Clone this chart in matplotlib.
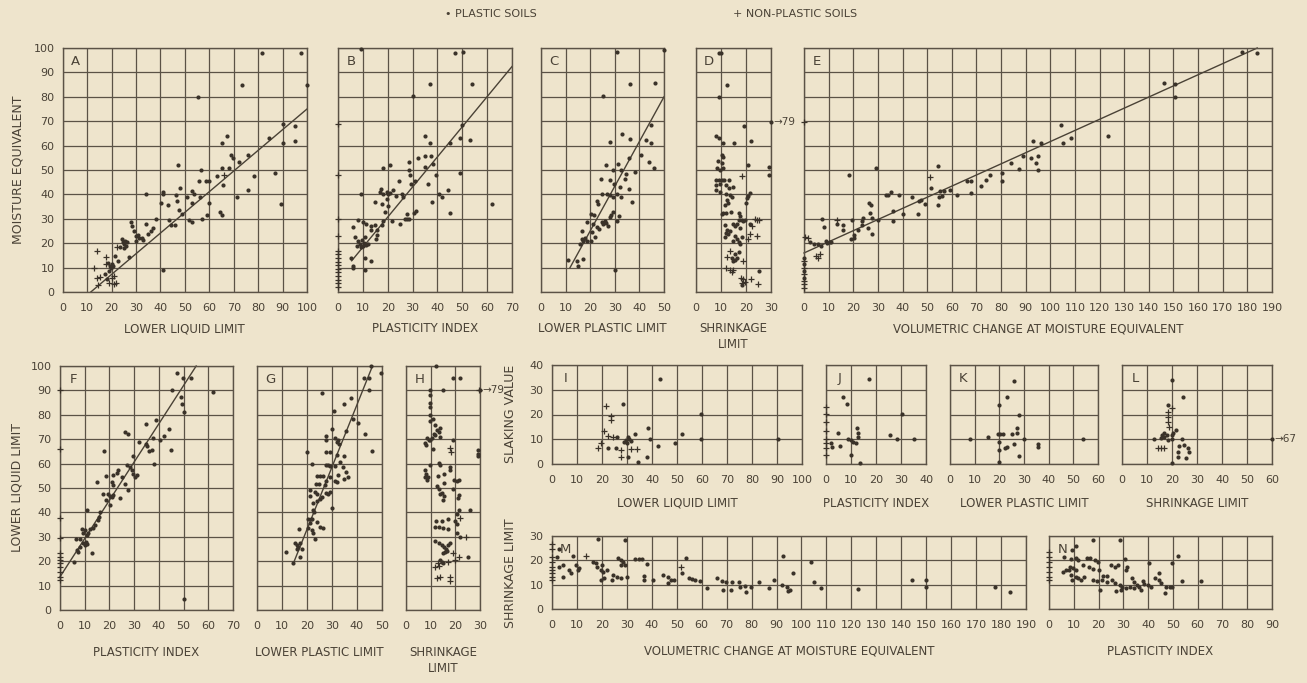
import matplotlib
matplotlib.use("Agg")
import matplotlib.pyplot as plt
from matplotlib import font_manager as fm

# ---------------- DATA ----------------
A_plastic = [(81.6,98),(97.4,98),(100,85),(73.2,85),(55.5,80),(90.3,69),(95,68),(95,62),(90.3,61),(84.5,63),
             (67.2,64),(65.2,61),(78.4,47.7),(87,48.8),(89.3,36),(75.9,42),(71.2,38.8),(75.9,56),(72,53.3),(69.8,55),
             (69,56.2),(68,50.7),(65.3,51),(65.6,44),(63,47.4),(64.5,32.6),(65.3,31.6),(59.9,45.6),(58.6,45.6),(56.8,50),
             (55.8,45.6),(52.8,41.2),(53.8,40.1),(50.7,38.8),(53,36.6),(56.4,38.8),(59.9,36.6),(58.9,31.5),(57,29.9),(53,28.5),
             (51.7,29.6),(47,52),(48,42.6),(46.4,39.7),(46.7,37.4),(47.6,33.6),(48.7,31.9),(44.4,27.5),(46,27.5),(43.7,29.6),
             (43,35.8),(41,40.1),(41,40.8),(40.3,36.3),(41,8.9),(34,40.1),(38.1,29.9),(37.1,26.2),(36.2,25.1),(34,27.8),
             (34.8,23.7),(32.4,22),(29.9,23),(31.4,22.3),(29.9,21),(28.4,27),(27.8,28.6),(29,25),(27,14.4),(26.3,20.3),
             (25,19.6),(24.1,21.6),(23.5,18.5),(25.2,18.2),(25.6,21),(21.5,14.8),(22.6,12.7),(20,11.4),(20.5,10.7),(19.7,10),
             (18.8,8.6),(18.4,12),(19.2,10.7),(17.4,7.3),(18.1,5.2),(26,19),(24.5,20.5),(31,23.5),(33,21.5)]
A_nonplastic = [(14,16.8),(12.9,10),(14,5.9),(15.2,6.3),(17.6,11.4),(17.8,14.4),(20.3,5.9),(20.8,3.2),(21.9,3.8),
                (18.8,3.7),(22.4,18.5),(14.6,2.7),(66,48),(21,6.5)]
A_fit = [(11.5,0),(100,75)]

B_plastic = [(9.2,99.7),(47,98),(50.3,98.2),(30.1,80.4),(36.9,85.2),(54,85.2),(9.2,40),(50,68.4),(49,63.3),(53,62.2),
             (45.2,60.9),(35,64.1),(36.9,61.1),(32.2,55.1),(34.9,55.6),(37.6,55.6),(38.2,52.6),(35.1,51.2),(39.3,48.1),
             (28.4,53.3),(28.4,50.1),(28.8,48.1),(29.5,44.1),(31.1,45.5),(24.4,45.5),(36.1,44.1),(48.9,48.8),(44.1,42),
             (40.8,40),(41.9,38.9),(37.8,36.7),(45.2,32.3),(61.8,35.9),(18.3,50.8),(21,52.2),(17,40.9),(17.2,42.3),(18,40),
             (19.7,40.9),(20.3,40),(21,40.5),(22.1,41.9),(19.7,38.2),(15,36.7),(17.9,35.9),(20.3,35.2),(23.4,39.3),(25.7,40),
             (26.1,38.9),(19,32.7),(21.9,29),(18.3,29.3),(17.9,27.6),(15,27.5),(15.6,25.5),(13.2,26.9),(13.2,25.5),(11.2,27.9),
             (8.2,29.7),(9.9,28.6),(6.2,26.5),(15.6,23.5),(15.2,21.7),(12,19.6),(10.9,22.4),(8.2,21),(8.9,19.6),(9.6,21.3),
             (9.9,19),(10.5,19.9),(9.2,18.3),(11.2,19.4),(6.9,22.4),(7.5,19),(25,27.9),(27,29.9),(27.7,29.9),(28.4,29.9),
             (27.7,32),(30.7,32.3),(31.5,33.1),(13.3,12.8),(10.9,14.1),(10.9,8.9),(5.3,13.9),(6.2,10.7),(6,10)]
B_nonplastic = [(0,69),(0,48),(0,30),(0,23),(0,17),(0,15.5),(0,14),(0,12.5),(0,11),(0,9.5),(0,8),(0,6.5),(0,5),
                (0,3.5),(0,2)]
B_fit = [(5.5,12.8),(70,92.4)]

C_plastic = [(31,98.2),(50,99),(25.3,80.4),(36.1,85.3),(46.2,85.6),(28,61.4),(33.1,64.7),(36.1,62.9),(42.8,62.2),
             (44.9,61.1),(44.9,68.4),(40.8,56.3),(43.9,53.3),(45.8,51),(35.8,55.1),(34.5,48.2),(38.2,49.2),(26.6,51.9),
             (29.3,50.1),(32.6,49.9),(31.4,52.6),(24.2,46.2),(28,45.7),(29.6,44.4),(32,43),(34.1,46.4),(35.8,42.3),
             (36.9,36.8),(24.6,40.2),(27,40),(28,39.6),(29.3,38.9),(30.7,40.2),(32.7,39.1),(22.6,37.2),(23.2,36.1),
             (29.3,32.7),(28.6,31.6),(31.8,31.3),(31,29),(28,30.6),(20.5,32),(21.5,31.7),(18.5,28.6),(21.2,27.9),
             (22.6,26.5),(23.6,25.8),(24.6,28.6),(25.3,27.9),(26,29),(26.6,28.2),(27.3,27.2),(16.5,24.9),(20.8,24.5),
             (21.9,22.7),(20.5,20.7),(16.5,21.7),(16.9,21),(17.8,22.1),(15.8,19.6),(18.5,20.7),(14.7,12.8),(11.1,13),
             (17.2,13.5),(15.1,10.7),(30,8.9)]
C_fit = [(11.8,10),(50,80)]

D_plastic = [(9,98),(9.9,98),(12.3,85),(9.2,80),(19.2,68),(30,69.7),(7.9,64),(9.3,63),(10.9,61),(15.2,61),(22,62),
             (10.3,56.3),(10.9,55.3),(8.9,53.6),(10.3,52.9),(8.3,50.9),(9.6,50.2),(10.9,50.9),(20.7,52),(29.2,51.2),
             (29.2,47.9),(8,46),(9.3,46),(10.3,46),(11.2,46),(13,45.8),(8,44),(9.6,44.3),(12,43.8),(13.3,42.7),(14.7,43),
             (8,41.6),(9.6,41),(12,40.2),(13.6,39.7),(14.3,38.9),(12.3,37.9),(12.7,36.6),(11.6,35.6),(21.6,40.7),
             (20.9,39.3),(20.3,38.6),(20,36.6),(10.3,32.1),(10.9,32.5),(12,32.2),(13.9,32.7),(17.3,32.5),(17.6,31.1),
             (18.3,29.7),(18.9,29.1),(19.6,29.7),(17,29.7),(16.3,28),(15.6,27),(14.7,27.7),(11.6,27.4),(12.3,25.6),
             (12,24.3),(11.6,22.5),(12.9,23.6),(13.6,25.2),(17.6,26.3),(21.6,27.7),(15.6,22.9),(16.3,21.6),(17,20.6),
             (17.6,19.5),(18.3,22.5),(14.9,20.9),(14.3,14),(14.9,12.7),(15.6,13),(16.3,14),(15.6,15.4),(17,16.5),
             (25.3,8.6),(18.3,2.9)]
D_nonplastic = [(18.3,47.5),(23.6,30),(24.3,29.7),(25,29.7),(22.3,27),(21.6,23.6),(20.9,21.6),(24.3,22.9),(12.3,14.3),
                (13.6,16.8),(18.9,12.7),(12,9.7),(13.6,8.9),(14.9,8.9),(14.3,8.3),(17.9,5.9),(18.9,5.2),(18.3,3.8),
                (19.6,4.2),(21.9,5.2),(24.9,3.1)]

E_plastic = [(177.8,98.4),(184,98.1),(146,85.7),(150.6,85.4),(150.6,80),(104.2,68.4),(105.2,61.2),(108.2,63),
             (123.4,64),(93,61.9),(96.3,61),(95.2,55.9),(92.3,54.8),(94,52.8),(95.2,49.9),(89.1,55.8),(87.1,50.5),
             (84.1,52.8),(80.2,48.7),(80.2,45.6),(75.4,48),(73.9,45.7),(71.7,43.3),(68,45.6),(66.2,45.6),(68,40.5),
             (62,39.9),(59.1,41.9),(56.8,41.5),(55.4,41.2),(54.3,51.7),(51.6,42.6),(56.1,39.2),(55,38.9),(54.3,35.8),
             (49.1,36.1),(47.6,37.8),(46.7,37.1),(43.9,38.9),(46.4,32),(40.2,32),(36,33.1),(36,29),(38.5,39.9),(35.3,40.8),
             (33.3,39.9),(34.2,39.9),(29.3,50.7),(18.2,48),(30,29.7),(27.1,35.8),(26.3,36.5),(26.8,32.4),(27.8,30.3),
             (24.1,30.3),(23.4,29),(21.9,25.6),(20.4,23.5),(18.9,21.9),(20.4,22.2),(23.4,27.6),(15.9,25.6),(15.9,27.6),
             (13.2,27.9),(19.6,29.7),(25.9,26.3),(27.8,23.8),(7.3,30),(8,26.7),(2.5,20.5),(4,19.5),(5.5,19.5),(7,18.8),
             (8.9,20.8),(9.5,20.1),(10.4,20.5),(11,20.5),(0,14),(0,11.3),(0,8.6),(0,5.9)]
E_nonplastic = [(0,69.5),(51.3,47.3),(13.4,29.7),(1.8,22.2),(0.3,22.4),(6.3,15.4),(4.8,14.7),(5.5,14),(0,12.7),(0,9.9),
                (0,7.2),(0,4.5),(0,3.1),(0,1.8)]
E_fit = [(0,16),(184,100)]

F_plastic = [(47.3,97.1),(49.7,95.1),(53.1,95.1),(45.3,90),(61.9,89.4),(48.9,87.3),(49.3,84.3),(50,81.2),(50,4.6),
             (38.8,78),(34.7,76.4),(44.2,74.2),(42.2,71.2),(37.8,70.3),(40.5,69.6),(26.4,73),(27.7,72.3),(31.8,68.9),
             (34.7,68.2),(35.1,67.1),(37.2,65.5),(36.2,65.2),(45,65.5),(38.1,60),(18,65.2),(29.7,63),(27,59.3),(28.4,58.7),
             (29.7,55.9),(31.1,55.3),(30.4,54.6),(29,57.3),(23.6,57.3),(23,56.2),(21.6,55.3),(25,54.6),(26.4,51.8),
             (27.7,49.1),(20.9,52.5),(21.4,51.2),(18.6,54.8),(14.9,52.5),(17.6,47.7),(18.6,45),(19.6,47.7),(20.3,46.7),
             (20.9,46.4),(21.6,47.1),(20.3,43),(24.3,45.7),(16.2,40.2),(15.9,38.2),(15.5,36.8),(14.2,34.8),(13.5,33.8),
             (12.2,33.4),(10.8,40.9),(10.1,32.7),(11.5,31.7),(8.8,33.4),(9.2,31.4),(9.5,27.3),(10.1,26.6),(8.1,25.9),
             (6.8,24.6),(7.4,23.9),(6.5,28.9),(5.7,19.8),(12.8,23.5),(8.1,29.3),(10.8,30.7),(10.4,28),(11,27)]
F_nonplastic = [(0,90),(0,65.8),(0,37.8),(0,29.7),(0,23.5),(0,21.8),(0,20.5),(0,19.1),(0,17.7),(0,15.7),(0,13.6),
                (0,12.3)]
F_fit = [(0,13.6),(55.1,100)]

G_plastic = [(45.6,99.9),(49.7,97.1),(42.9,95.2),(44.6,95.2),(44.6,90.3),(25.9,89),(37.5,86.9),(34.6,84.3),(30.8,81.4),
             (38.2,78.4),(40.2,76.7),(35.5,73.3),(43.3,72),(29.9,74.1),(27.6,71.2),(27.6,69.6),(31.2,70.3),(31.9,68.9),
             (32.9,67.9),(32.2,69.6),(46,65.2),(20.1,64.8),(27.6,64.8),(29,64.8),(31.9,63.4),(34.9,63),(21.9,60),
             (27.6,59.3),(28.5,59.3),(29.2,58.9),(31.2,58.9),(33.2,60.7),(34.3,58.7),(35.6,56.6),(36.2,54.6),(34.6,53.5),
             (32.2,55.3),(23.9,54.8),(25.2,54.8),(26.3,54.8),(29,54.6),(27.6,52.9),(31.2,52.9),(31.9,52.5),(23.6,51.8),
             (24.9,51.8),(27.2,51.2),(21.2,49.1),(23.2,48.4),(24.1,47.7),(27.6,48),(28.5,47.7),(29.2,48.4),(25.9,46.4),
             (25.2,45.3),(21.2,46.7),(22.5,43.7),(23.9,44.7),(29.9,41.6),(22.3,40.9),(22.8,40.2),(21.8,37.5),(20.5,37.1),
             (21.4,37.1),(24.1,36.2),(25.2,34.1),(26.3,33.8),(21.2,35.5),(21.8,32.7),(22.3,31.4),(23.2,28.9),(16.9,33),
             (20.5,33.8),(15.1,27.3),(15.8,26.6),(16.5,25.9),(17.2,27.3),(17.8,25.2),(16.1,25.2),(17.2,21.6),(11.5,23.9),
             (14.2,19.4)]
G_fit = [(14.5,19),(46.2,100)]

H_plastic = [(12.2,99.9),(19.2,95.2),(21.9,95.2),(9.6,90),(15.2,90),(30,90),(9.6,88),(9.6,85),(9.6,83),(9.6,80),
             (9.6,77.5),(10.9,78.4),(11.8,75.7),(12.5,73.7),(13.6,74.4),(13.2,73),(11.2,72.3),(11.8,71.6),(13.6,70.9),
             (8.5,70.3),(9.2,69.6),(9.8,69.8),(10.5,70.3),(7.8,68.5),(8.2,67.5),(10.9,65.8),(19.2,69.6),(29.1,65.5),
             (29.1,63.8),(29.1,63),(9.6,59.3),(7.8,57.3),(8.2,55.9),(7.8,54.6),(8.5,53.2),(8.8,54.6),(13.2,60.3),
             (13.6,59.3),(12.8,54.8),(15.5,55.6),(17.9,58.7),(17.9,57.3),(19.6,53.2),(20.6,52.9),(21.3,53.2),(15.6,52.1),
             (12.5,50.8),(13.2,49.4),(13.6,47.7),(14.5,48),(15.5,46.7),(14.9,45),(19.2,49.4),(21.3,47.1),(21,45.7),
             (26,40.9),(21.3,40.9),(20.6,39.3),(19.8,36.6),(20.6,35.2),(12.2,36.6),(14.5,36.6),(17.2,37.5),(11.8,34.1),
             (13.2,34.1),(15.2,33.8),(17.2,33),(20.6,31.7),(21.7,30),(11.8,28.4),(13.2,27.6),(14.5,26.6),(15.5,25.9),
             (16.3,25.2),(17.2,26.6),(17.9,27.3),(16.6,24.3),(15.9,23.9),(14.9,23.5),(25.3,21.8),(13.6,20.5),(14.5,19.8),
             (15.2,19.1)]
H_nonplastic = [(29.4,90),(17.9,66.2),(18.2,64.8),(21.9,37.9),(24.3,30),(18.9,23.5),(21.3,21.8),(19.9,20.5),
                (12.8,19.1),(17.2,19.8),(11.8,17.7),(13.2,18),(12.5,13),(13.9,13.5),(17.9,13.4),(17.9,12)]

I_plastic = [(43.1,34.2),(28.4,24.2),(26.1,10.8),(30.4,11),(29.4,9.7),(30,8.4),(28.8,9),(33.3,12.1),(38.2,14.4),
             (39.2,10.1),(42.2,7.3),(37.8,3),(34.3,1),(30.4,3),(22.5,6.3),(25.5,6.3),(49,8.4),(52,12),(59.4,20.2),
             (59.4,10.1),(90.2,10.1),(31.4,9.4),(30.8,10.2)]
I_nonplastic = [(21.6,23.4),(23.5,19.4),(23.5,17.8),(20.6,13.5),(22.5,11.3),(24.5,11),(27.5,5.7),(27.5,2.7),
                (31.4,5.9),(33.9,5.9),(18.2,6.3),(19.6,8.6)]

J_plastic = [(17.1,34.2),(6.9,27.2),(8.2,24.1),(30.4,20.2),(2,8.4),(2.5,7),(4.9,12.4),(5.5,7.3),(8.8,10.1),(9.8,9.7),
             (10.8,9),(12.4,14.4),(12.7,12.4),(12.7,11),(11.8,8.4),(9.8,3.6),(13.7,0.5),(25.5,11.7),(28.4,10.1),
             (35.3,10.1)]
J_nonplastic = [(0,23.2),(0,20.2),(0,17.1),(0,13.5),(0,10.1),(0,8.4),(0,6.3),(0,3.6)]

K_plastic = [(25.8,33.7),(23.3,26.9),(19.9,23.8),(27.8,19.8),(8.3,10.1),(15.3,11),(19.3,12.1),(20.3,12.1),(19.9,9),
             (21.3,12.1),(27.2,14.4),(27.2,12.7),(25.2,12),(29.8,10.1),(25.8,8.1),(23.3,7),(22.3,6.3),(19.9,5.7),
             (27.8,3.2),(19.9,0.9),(35.8,8.1),(35.8,7),(54.1,10.1)]

L_plastic = [(19.9,33.9),(24.3,26.9),(18.3,23.8),(16.9,12.4),(15.9,11.7),(17.9,11.7),(19.9,11.7),(21.5,13.7),
             (20.3,12.7),(12.9,10),(15.5,10.4),(16.9,10.8),(18.5,9.7),(19.9,10),(23.9,10),(24.9,7.7),(26.4,6.3),
             (26.8,5),(22.9,7.3),(22.5,5),(22.5,3),(25.4,2.3),(19.9,0.5),(60,10)]
L_nonplastic = [(19.9,22.5),(18.5,21.1),(18.5,18.9),(18.5,17.1),(18.9,15.1),(16.9,6.3),(14.3,6.3),(15.5,6.3)]

M_plastic = [(3,24.6),(2,21.2),(8.4,21.7),(18.6,28.9),(29.4,28.5),(3,17.4),(4.5,18),(4.3,13.3),(7.8,14.7),(6.9,16),
             (9.8,18),(10.8,16.7),(10.4,16),(16.3,19.4),(17.6,18.7),(18.2,17.4),(20.2,18),(19.6,16),(20.6,15.3),
             (22.2,16),(19.6,11.9),(21,12.6),(24.1,11.9),(24.5,14),(26.5,20.8),(27.5,20.1),(28.4,19.4),(27.5,18),
             (29.4,18),(26.1,13.3),(27.5,12.6),(30,13),(33.3,20.4),(34.7,20.4),(35.9,20.6),(38.2,18.3),(36.7,13.6),
             (36.7,11.9),(40.6,11.9),(44.5,14),(46.5,13),(47.6,11.9),(46.5,10.6),(49,11.9),(52,14.7),(53.9,20.8),
             (54.9,12.6),(56.3,12.2),(57.5,11.9),(59.4,11.7),(62.2,8.8),(66.1,12.6),(68,11.7),(68.6,7.9),(69.6,10.9),
             (72.2,11.3),(75.1,11.1),(71.9,7.9),(75.5,9),(77.5,9.5),(77.8,6.8),(79.8,9),(82.9,10.9),(86.9,8.8),
             (88.8,11.9),(92.2,9.9),(94.1,9),(95.5,7.9),(94.7,7.6),(92.7,21.7),(96.5,14.9),(103.9,19.4),(104.9,10.9),
             (107.8,8.8),(122.5,8.1),(144.5,11.9),(150,11.9),(150,9),(177.5,9),(183.7,6.8)]
M_nonplastic = [(0,26.6),(0,24.8),(0,21.2),(0,19.4),(0,17.4),(0,16),(0,14.7),(0,13.3),(0,11.9),(13.7,21.7),(51.6,17.4)]

N_plastic = [(10.8,25.8),(9.4,24.4),(17.7,28.5),(28.5,28.5),(5.9,21.4),(8.9,20.4),(10.8,20.8),(11.8,20.1),(15.4,20.8),
             (16.7,20.8),(18.7,20.1),(19.7,19.4),(8.3,17.4),(6.9,16),(5.5,15.3),(7.9,16),(9.8,16.7),(10.8,16),(8.9,14),
             (10.8,13.3),(11.8,12.6),(9.4,11.9),(12.8,11.9),(14.2,13.3),(13.8,18),(16.1,17.4),(17.7,16.3),(20.1,16),
             (17.7,11.9),(19.3,11.7),(21.3,11.9),(23.6,11.3),(25.2,18),(26.6,17.4),(28,18),(30.5,20.4),(31.5,17.4),
             (31.1,16),(21.7,13.6),(23.6,13.6),(25.6,11.9),(26.6,10.6),(28.5,9.9),(29.5,9),(31.1,8.5),(32.5,9.2),
             (20.7,7.9),(27.2,7.6),(29.1,7.9),(33.5,12.6),(34.4,10.9),(35.4,9.9),(36.4,9.2),(37.8,11.7),(38.4,10.4),
             (40.4,18.8),(39.8,9.9),(41.3,9.2),(42.9,12.6),(44.3,11.9),(45.3,10.6),(44.3,14.7),(46.9,6.5),(47.2,9),
             (48.8,9),(49.6,9),(49.6,18.8),(52.2,21.7),(53.5,11.7),(61.4,11.7),(37,7.9),(34.4,8.5)]
N_nonplastic = [(0,23.5),(0,21.4),(0,19.4),(0,17.4),(0,15.3),(0,13.3),(0,11.9)]

# ---------------- STYLE ----------------
W, H = 1307, 683
BG = "#eee4cc"
GRID = "#5b5246"
INK = "#4a4236"
DOT = "#3a3229"

avail = {f.name for f in fm.fontManager.ttflist}
FONT = "Liberation Sans Narrow" if "Liberation Sans Narrow" in avail else "DejaVu Sans"
plt.rcParams["font.family"] = [FONT, "DejaVu Sans"]
FS_TICK = 10.5 if FONT != "DejaVu Sans" else 8
FS_LAB = 11 if FONT != "DejaVu Sans" else 8.5

fig = plt.figure(figsize=(W / 100, H / 100), dpi=100, facecolor=BG)


def make_ax(box, xmax, ymax, letter, xlabel, ylabels=False, label_off=40):
    x0, y0, x1, y1 = box
    ax = fig.add_axes([x0 / W, 1 - y1 / H, (x1 - x0) / W, (y1 - y0) / H])
    ax.set_facecolor(BG)
    ax.set_xlim(0, xmax)
    ax.set_ylim(0, ymax)
    ax.set_xticks(range(0, xmax + 1, 10))
    ax.set_yticks(range(0, ymax + 1, 10))
    ax.grid(True, color=GRID, lw=0.9)
    ax.set_axisbelow(True)
    ax.tick_params(axis="both", length=0, labelsize=FS_TICK, colors=INK)
    ax.tick_params(axis="x", pad=8)
    ax.tick_params(axis="y", pad=6)
    if not ylabels:
        ax.set_yticklabels([])
    for s in ax.spines.values():
        s.set_color(GRID)
        s.set_linewidth(1.0)
    ax.annotate(letter, xy=(0, 1), xycoords="axes fraction", xytext=(9.5, -10),
                textcoords="offset points", ha="center", va="center",
                fontsize=FS_LAB + 1, color=INK)
    ax.annotate(xlabel, xy=(0.5, 0), xycoords="axes fraction", xytext=(0, -label_off * 0.72),
                textcoords="offset points", ha="center", va="top",
                fontsize=FS_LAB, color=INK, linespacing=1.25)
    return ax


def scatter(ax, pts, kind):
    if not pts:
        return
    xs, ys = zip(*pts)
    if kind == "dot":
        ax.plot(xs, ys, "o", ms=3.0, color=DOT, mec="none", clip_on=False, zorder=3)
    else:
        ax.plot(xs, ys, "+", ms=4.5, mew=0.9, color=DOT, clip_on=False, zorder=3)


def fit(ax, pts):
    xs, ys = zip(*pts)
    ax.plot(xs, ys, "-", color=INK, lw=1.0, zorder=2, clip_on=False)


def offscale(ax, y, ymax, txt):
    ax.annotate(txt, xy=(1, y / ymax), xycoords="axes fraction", xytext=(2, 0),
                textcoords="offset points", ha="left", va="center",
                fontsize=FS_TICK - 0.5, color=INK)


TOP = 30

axA = make_ax((62.7, 48, 307, 292), 100, 100, "A", "LOWER LIQUID LIMIT", ylabels=True, label_off=TOP)
scatter(axA, A_plastic, "dot"); scatter(axA, A_nonplastic, "plus"); fit(axA, A_fit)

axB = make_ax((338, 48, 512, 292), 70, 100, "B", "PLASTICITY INDEX", label_off=TOP)
scatter(axB, B_plastic, "dot"); scatter(axB, B_nonplastic, "plus"); fit(axB, B_fit)

axC = make_ax((541, 48, 664, 292), 50, 100, "C", "LOWER PLASTIC LIMIT", label_off=TOP)
scatter(axC, C_plastic, "dot"); fit(axC, C_fit)

axD = make_ax((696, 48, 771, 292), 30, 100, "D", "SHRINKAGE\nLIMIT", label_off=TOP)
scatter(axD, D_plastic, "dot"); scatter(axD, D_nonplastic, "plus")
offscale(axD, 69.7, 100, "\u219279")

axE = make_ax((804, 48, 1272, 292), 190, 100, "E", "VOLUMETRIC CHANGE AT MOISTURE EQUIVALENT", label_off=TOP)
scatter(axE, E_plastic, "dot"); scatter(axE, E_nonplastic, "plus"); fit(axE, E_fit)

axF = make_ax((60, 366, 233, 610), 70, 100, "F", "PLASTICITY INDEX", ylabels=True, label_off=36)
scatter(axF, F_plastic, "dot"); scatter(axF, F_nonplastic, "plus"); fit(axF, F_fit)

axG = make_ax((257, 366, 382, 610), 50, 100, "G", "LOWER PLASTIC LIMIT", label_off=36)
scatter(axG, G_plastic, "dot"); fit(axG, G_fit)

axH = make_ax((406, 366, 480, 610), 30, 100, "H", "SHRINKAGE\nLIMIT", label_off=36)
scatter(axH, H_plastic, "dot"); scatter(axH, H_nonplastic, "plus")
offscale(axH, 90, 100, "\u219279")

axI = make_ax((552, 365, 802, 464), 100, 40, "I", "LOWER LIQUID LIMIT", ylabels=True, label_off=33)
scatter(axI, I_plastic, "dot"); scatter(axI, I_nonplastic, "plus")

axJ = make_ax((826, 365, 926, 464), 40, 40, "J", "PLASTICITY INDEX", label_off=33)
scatter(axJ, J_plastic, "dot"); scatter(axJ, J_nonplastic, "plus")

axK = make_ax((950, 365, 1098, 464), 60, 40, "K", "LOWER PLASTIC LIMIT", label_off=33)
scatter(axK, K_plastic, "dot")

axL = make_ax((1122, 365, 1272, 464), 60, 40, "L", "SHRINKAGE LIMIT", label_off=33)
scatter(axL, L_plastic, "dot"); scatter(axL, L_nonplastic, "plus")
offscale(axL, 10, 40, "\u219267")

axM = make_ax((552, 536, 1026, 609), 190, 30, "M", "VOLUMETRIC CHANGE AT MOISTURE EQUIVALENT", ylabels=True, label_off=36)
scatter(axM, M_plastic, "dot"); scatter(axM, M_nonplastic, "plus")

axN = make_ax((1049, 536, 1272, 609), 90, 30, "N", "PLASTICITY INDEX", label_off=36)
scatter(axN, N_plastic, "dot"); scatter(axN, N_nonplastic, "plus")


def ytitle(x, y, txt):
    fig.text(x / W, 1 - y / H, txt, rotation=90, ha="center", va="center", fontsize=FS_LAB + 0.5, color=INK)


ytitle(18, 170, "MOISTURE EQUIVALENT")
ytitle(17, 488, "LOWER LIQUID LIMIT")
ytitle(511, 414, "SLAKING VALUE")
ytitle(511, 573, "SHRINKAGE LIMIT")

fig.text(445 / W, 1 - 14 / H, "\u2022 PLASTIC SOILS", ha="left", va="center", fontsize=FS_TICK, color=INK)
fig.text(733 / W, 1 - 14 / H, "+ NON-PLASTIC SOILS", ha="left", va="center", fontsize=FS_TICK, color=INK)

fig.savefig("out.png", dpi=100, facecolor=BG)
